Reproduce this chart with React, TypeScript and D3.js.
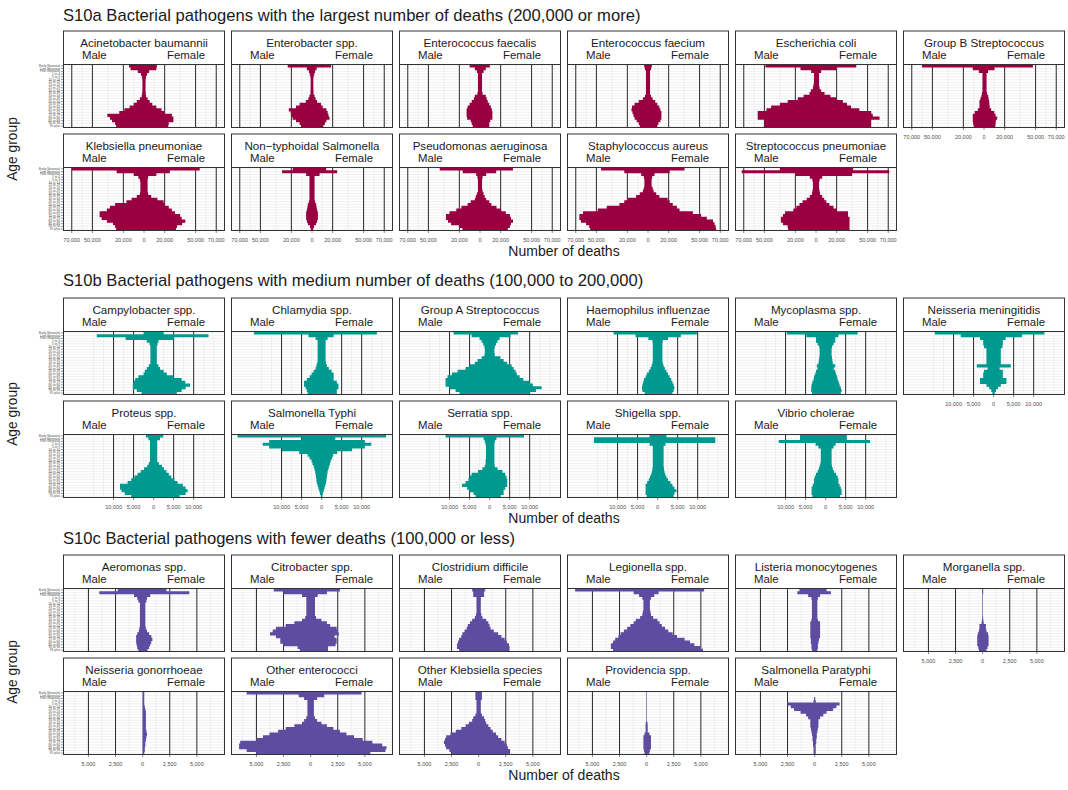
import React from "react";
import * as d3 from "d3";

const ageGroups = ["Early Neonatal","Late Neonatal","Post Neonatal","1 to 4","5 to 9","10 to 14","15 to 19","20 to 24","25 to 29","30 to 34","35 to 39","40 to 44","45 to 49","50 to 54","55 to 59","60 to 64","65 to 69","70 to 74","75 to 79","80 to 84","85 to 89","90 to 94","95 plus"];

// ---------- S10a ----------
const namesA = ["Acinetobacter baumannii","Enterobacter spp.","Enterococcus faecalis","Enterococcus faecium","Escherichia coli","Group B Streptococcus","Klebsiella pneumoniae","Non\u2212typhoidal Salmonella","Pseudomonas aeruginosa","Staphylococcus aureus","Streptococcus pneumoniae"];
const maleA = [
  [14500,13000,6000,3000,2000,1600,1500,1500,1500,1600,1800,2200,4000,7000,10000,14000,19000,24000,35500,33000,31000,28000,27000],
  [23500,5000,3000,2200,1500,1300,1300,1300,1300,1400,1500,2500,3500,6000,12000,15500,22500,20500,20000,18800,15500,12000,10700],
  [10000,5000,3000,2000,2000,2000,2000,2000,2000,2000,2500,5000,6000,8000,10000,12000,13000,13000,13000,12500,9000,8000,7000],
  [3700,3000,2000,2000,2000,2000,2000,2000,2000,2000,2000,3000,5000,9000,13000,15500,16000,15000,14000,13000,11000,9000,8000],
  [49000,15000,4700,2000,2000,2000,2000,2500,3000,5000,6300,12000,17700,27400,35000,43500,48000,56500,56500,56500,50000,50000,50000],
  [60000,10900,5000,1500,1500,1500,1500,1500,1500,1500,2000,2500,3500,4400,4400,4400,6000,9000,10900,10900,10900,10500,10000],
  [70000,26500,10000,5500,4000,3500,3500,3500,3500,4000,7000,12000,17000,28000,33000,36000,43000,43000,41000,36000,30000,28000,27000],
  [18600,29000,5700,2500,2500,2500,2500,2500,2500,2500,2500,2500,3000,4000,4500,5000,5700,5700,5700,5000,4000,2000,1200],
  [39000,16700,3700,2500,2000,2000,2000,2000,2000,3000,4000,5000,9000,12000,18000,23000,29600,33000,33000,31000,28000,20000,17000],
  [45500,23000,6600,4000,3500,3500,3500,4000,5000,8000,11500,19600,23000,27700,40000,48700,63000,66500,66500,65000,60000,57000,56000],
  [35000,72000,20000,6000,3500,3000,3000,3000,3500,4000,6000,9000,13000,16000,19000,22000,30000,32000,34000,34000,32000,27500,27000],
];
const femaleA = [
  [12500,12000,5000,3000,2000,1600,1500,1500,1500,1500,1700,2000,3500,5500,8000,12000,17000,20000,27000,28500,28500,24000,23500],
  [18500,4500,3000,2200,1500,1300,1300,1300,1300,1400,1500,2500,3500,5000,8700,10400,14000,15200,16000,17000,14000,12500,11000],
  [9500,5600,3500,2000,2000,2000,2000,2000,2000,2000,2500,5600,6500,7500,9000,10500,11500,12000,12000,12000,10000,9000,9000],
  [3700,3000,2000,2000,2000,2000,2000,2000,2000,2000,2000,3000,4500,7000,9000,11000,12000,13000,13000,13000,12000,10000,9000],
  [39000,19500,5000,3000,3000,3000,3000,3000,3500,5000,8300,14000,19600,26000,30000,34000,42000,53500,55000,61600,53500,53500,53500],
  [47400,10200,4000,2500,2500,2500,2500,2500,2500,2500,3000,4000,4500,5000,5300,5500,7000,10000,11200,12800,11500,11200,11000],
  [54000,25000,12000,4000,3500,3500,3500,3500,3500,4000,7000,13000,19000,20000,24000,27000,30000,35000,36500,40000,37000,32000,31000],
  [13700,24400,7300,2500,2500,2500,2500,2500,2500,2500,2500,2500,3000,4000,4500,5000,5700,5700,5700,5000,4000,2000,1200],
  [31900,15700,6000,2500,2000,2000,2000,2000,2500,3500,4500,6000,9000,11000,16000,20500,25000,29000,30000,32000,30000,29000,27000],
  [35400,21000,6300,4000,3500,3500,3500,4500,5500,8000,11000,19000,21000,24000,28000,30600,43500,51500,57000,63000,64500,65500,66000],
  [36000,71000,35000,6000,3500,3000,3000,3000,3500,4000,6000,8000,10000,13000,17000,20000,31000,31000,32500,32500,32500,32500,32500],
];
const ticksA = [-70000,-50000,-20000,0,20000,50000,70000];
const domainA = [-78000, 78000];

// ---------- S10b ----------
const namesB = ["Campylobacter spp.","Chlamydia spp.","Group A Streptococcus","Haemophilus influenzae","Mycoplasma spp.","Neisseria meningitidis","Proteus spp.","Salmonella Typhi","Serratia spp.","Shigella spp.","Vibrio cholerae"];
const maleB = [
  [2500,14200,7000,1700,1000,800,800,800,800,800,800,800,1200,1700,2200,2500,3800,4600,5000,5200,5200,4200,3000],
  [16900,3300,1500,1000,1000,1000,1000,1000,1000,1000,1000,1100,1300,1500,2000,2500,3000,3700,4400,4400,4000,3700,3500],
  [9000,4500,2500,2000,1600,1300,1200,1200,1300,2000,3000,3700,5000,6000,8000,9400,10500,11000,11000,11000,10000,8500,7500],
  [11000,5500,2300,1300,1200,1200,1200,1200,1200,1200,1200,1300,1500,1800,2200,2700,3000,3400,3600,3800,3900,3800,3200],
  [9700,4800,2400,2400,2000,1600,1500,1500,1500,1600,1700,1800,2200,2000,2400,2600,2900,3000,3300,3500,3600,3600,3400],
  [14700,8200,3400,2600,2600,2400,1800,1800,1800,1800,1800,1800,4200,1500,2400,2600,2600,3400,3400,1800,1100,600,300],
  [1900,1300,900,900,900,900,900,900,900,900,1200,1600,2400,3200,4000,4800,5600,6500,8400,8400,8000,7200,5600],
  [21000,5000,13100,14700,13100,9900,5600,3500,3000,2500,2300,2000,1800,1600,1500,1400,1300,1200,1000,800,600,400,200],
  [11000,1500,1200,1000,900,900,900,900,900,1000,1000,1200,1800,2900,4500,5000,5300,6000,6900,5600,5000,4000,3500],
  [2000,15900,15900,2000,1200,1200,1200,1200,1200,1200,1200,1200,1300,1400,1600,1900,2200,2600,3000,3000,3000,3000,2700],
  [6400,6400,11700,2500,1800,1200,1200,1200,1200,1200,1300,1500,1700,2000,2400,2700,2900,2900,3200,3500,3500,3500,3300],
];
const femaleB = [
  [2500,13700,5000,1200,1000,800,800,800,800,800,800,800,1200,1600,2500,3300,5000,7000,7900,9100,8000,7000,5800],
  [13800,3000,1500,1000,1000,1000,1000,1000,1000,1000,1000,1100,1300,1800,2500,3000,3000,3000,3800,4200,4200,3800,3800],
  [7100,5200,2500,2000,1600,1300,1200,1200,1300,2700,3500,4400,5500,6000,6500,6800,7500,8400,10000,10800,13000,11600,10000],
  [9800,5800,2600,1300,1200,1200,1200,1200,1200,1200,1200,1300,1500,1800,2200,2600,3000,3400,3700,4000,4200,4000,3700],
  [8000,3200,2400,2400,2000,1600,1500,1500,1500,1600,1700,1800,2400,2000,2400,2600,2900,3000,3300,3500,3800,4000,3800],
  [12700,7100,3000,2300,2300,2200,1800,1800,1800,1800,1800,1800,4300,1500,2300,2300,2300,3200,3200,1800,1100,600,300],
  [2400,1600,900,900,900,900,900,900,900,900,1300,2100,2600,3200,3800,4400,5200,6000,7300,8000,8500,8000,6500],
  [16100,3400,10800,12400,10800,7600,3900,2900,2600,2300,2100,1900,1700,1500,1400,1300,1200,1100,900,700,500,300,200],
  [8600,1700,1300,1200,1200,1200,1200,1200,1200,1200,1200,1300,2000,3200,3900,4200,4400,4400,4400,3900,3500,3500,2800],
  [2200,14400,14400,2000,1500,1500,1500,1500,1500,1500,1500,1500,1600,1700,1900,2200,2600,3200,3700,4200,4700,4200,4000],
  [5300,5300,11100,2500,2000,1500,1500,1500,1500,1500,1500,1600,1800,2100,2600,3000,3200,3200,3500,3800,4000,4000,3600],
];
const ticksB = [-10000,-5000,0,5000,10000];
const domainB = [-22500, 17700];

// ---------- S10c ----------
const namesC = ["Aeromonas spp.","Citrobacter spp.","Clostridium difficile","Legionella spp.","Listeria monocytogenes","Morganella spp.","Neisseria gonorrhoeae","Other enterococci","Other Klebsiella species","Providencia spp.","Salmonella Paratyphi"];
const maleC = [
  [2300,4000,800,500,400,250,250,250,250,250,250,250,250,250,300,350,500,600,600,600,550,500,400],
  [3400,2500,800,400,400,400,400,400,400,400,500,800,1500,2300,3200,3500,3750,3200,2800,2800,2500,1200,1000],
  [600,500,500,200,200,200,200,200,200,250,350,600,800,1000,1100,1300,1500,1600,1800,1900,2000,2000,1800],
  [6600,1200,700,400,300,300,300,300,350,400,600,1000,1200,1500,1800,2100,2400,2600,2900,3100,3300,3300,3100],
  [1400,1600,600,300,250,250,250,250,250,250,250,300,400,400,400,400,400,400,350,350,300,300,250],
  [50,50,30,30,30,30,30,30,30,30,40,60,100,300,300,350,450,500,500,500,500,400,350],
  [20,20,20,20,20,20,20,20,20,20,20,20,20,20,20,20,20,20,20,20,20,20,20],
  [5900,1100,600,300,300,300,300,300,300,400,600,800,1500,2300,3000,3800,4400,5000,6500,6600,6600,5900,5000],
  [300,300,300,200,200,200,200,200,300,500,600,900,1200,1600,2100,2600,3000,3100,3200,3100,3000,2700,2500],
  [30,30,30,30,30,30,30,30,30,30,30,80,100,100,100,200,300,300,300,300,300,250,200],
  [0,0,50,100,2500,2200,1900,1300,800,600,400,400,400,350,300,250,200,200,150,150,100,100,100],
];
const femaleC = [
  [2200,4300,700,400,350,250,250,250,250,250,250,250,250,250,300,400,600,800,900,800,700,600,450],
  [2700,1500,650,400,400,400,400,400,400,400,500,1000,1500,1800,2400,2500,2600,2200,2400,2400,2300,1600,1600],
  [600,500,500,200,200,200,200,200,200,250,350,700,900,1000,1100,1400,1800,2100,2400,2600,2800,2850,2850],
  [5300,1100,700,400,300,300,300,300,350,400,600,1000,1200,1400,1700,2000,2400,2800,3500,4000,4400,5000,5200],
  [1100,1500,500,300,250,250,250,250,250,250,250,300,500,500,500,500,500,500,400,350,300,300,250],
  [50,50,30,30,30,30,30,30,30,30,40,60,100,300,300,350,500,550,550,550,550,450,350],
  [150,150,150,150,150,200,250,300,300,300,300,300,300,300,350,400,350,300,250,250,200,200,150],
  [4700,1250,600,300,300,300,300,300,300,400,600,1000,1500,2100,2700,3300,4000,4800,5700,6600,7000,6900,5500],
  [300,300,300,200,200,200,200,200,300,500,600,700,900,1100,1300,1600,1800,2100,2400,2600,2700,2900,2900],
  [30,30,30,30,30,30,30,30,30,30,30,80,100,100,100,250,400,400,400,400,400,300,250],
  [0,0,50,100,2300,2000,1700,1100,800,500,350,350,350,300,250,200,200,150,150,100,100,100,100],
];
const ticksC = [-5000,-2500,0,2500,5000];
const domainC = [-7300, 7550];

const titles = [
  "S10a Bacterial pathogens with the largest number of deaths (200,000 or more)",
  "S10b Bacterial pathogens with medium number of deaths (100,000 to 200,000)",
  "S10c Bacterial pathogens with fewer deaths (100,000 or less)",
];

const FONT = "'Liberation Sans', Arial, Helvetica, sans-serif";

const sections = [
  { title: titles[0], names: namesA, male: maleA, female: femaleA, ticks: ticksA, domain: domainA, color: "#990042", titleY: 20.8, top: 31, ageY: 149 },
  { title: titles[1], names: namesB, male: maleB, female: femaleB, ticks: ticksB, domain: domainB, color: "#009990", titleY: 285.7, top: 298, ageY: 414 },
  { title: titles[2], names: namesC, male: maleC, female: femaleC, ticks: ticksC, domain: domainC, color: "#5D4CA0", titleY: 543.5, top: 555, ageY: 672 },
];

const COL0 = 63.5, COLSTEP = 168, PW = 161;
const STRIP_H = 33.5, PANEL_H = 63, ROW_GAP = 6.5;

function minorBreaks(b: number[], lim: number[]) {
  const bd = b[1] - b[0];
  let bb = b.slice();
  if (lim[0] < bb[0]) bb = [bb[0] - bd, ...bb];
  if (lim[1] > bb[bb.length - 1]) bb = [...bb, bb[bb.length - 1] + bd];
  const out: number[] = [];
  for (let i = 0; i < bb.length - 1; i++) out.push((bb[i] + bb[i + 1]) / 2, bb[i + 1]);
  out.push(bb[0]);
  return out.filter((v) => v > lim[0] && v < lim[1] && !b.includes(v));
}

const fmt = d3.format(",");

function Panel({ sec, idx, si }: any) {
  const row = idx < 6 ? 0 : 1;
  const col = idx < 6 ? idx : idx - 6;
  const L = COL0 + COLSTEP * col;
  const stripTop = sec.top + row * (STRIP_H + PANEL_H + ROW_GAP);
  const pTop = stripTop + STRIP_H;
  const pBot = pTop + PANEL_H;
  const x = d3.scaleLinear().domain(sec.domain).range([L, L + PW]);
  const y = d3.scaleBand<string>().domain(ageGroups).range([pTop, pBot]).padding(0);
  const minors = minorBreaks(sec.ticks, sec.domain);
  const showXAxis = idx === 5 || idx >= 6;
  const showY = col === 0;
  const clipId = `clip-${si}-${idx}`;
  const m: number[] = sec.male[idx];
  const f: number[] = sec.female[idx];
  // one path for the whole pyramid (male left of zero, female right) so no seams appear
  const p = d3.path();
  ageGroups.forEach((a, i) => {
    const xl = x(-(m[i] || 0));
    const xr = x(f[i] || 0);
    let w = xr - xl;
    if (w <= 0) return;
    let x0 = xl;
    if (w < 0.6) { x0 = (xl + xr) / 2 - 0.3; w = 0.6; }
    const h = y.bandwidth() + (i < ageGroups.length - 1 ? 0.35 : 0);
    p.rect(x0, y(a) as number, w, h);
  });
  return (
    <g>
      <defs>
        <clipPath id={clipId}>
          <rect x={L} y={pTop} width={PW} height={PANEL_H} />
        </clipPath>
      </defs>
      <rect x={L} y={stripTop} width={PW} height={STRIP_H} fill="#ffffff" stroke="#333333" strokeWidth={1} />
      <text x={L + PW / 2} y={stripTop + 15.5} textAnchor="middle" fontSize={11.6} fontFamily={FONT} fill="#1a1a1a">{sec.names[idx]}</text>
      <text x={L + 18.5} y={stripTop + 27.5} textAnchor="start" fontSize={11.4} fontFamily={FONT} fill="#1a1a1a">Male</text>
      <text x={L + PW - 19.5} y={stripTop + 27.5} textAnchor="end" fontSize={11.4} fontFamily={FONT} fill="#1a1a1a">Female</text>
      <rect x={L} y={pTop} width={PW} height={PANEL_H} fill="#ffffff" />
      <g clipPath={`url(#${clipId})`}>
        {ageGroups.map((a) => (
          <line key={a} x1={L} x2={L + PW} y1={(y(a) as number) + y.bandwidth() / 2} y2={(y(a) as number) + y.bandwidth() / 2} stroke="#e6e6e6" strokeWidth={0.6} />
        ))}
        {minors.map((v) => (
          <line key={"mn" + v} x1={x(v)} x2={x(v)} y1={pTop} y2={pBot} stroke="#e8e8e8" strokeWidth={0.6} />
        ))}
        {sec.ticks.filter((v: number) => v !== 0).map((v: number) => (
          <line key={"mj" + v} x1={x(v)} x2={x(v)} y1={pTop} y2={pBot} stroke="#111111" strokeWidth={0.9} />
        ))}
        <path d={p.toString()} fill={sec.color} />
      </g>
      <rect x={L} y={pTop} width={PW} height={PANEL_H} fill="none" stroke="#333333" strokeWidth={1} />
      {showXAxis && (
        <g>
          {sec.ticks.map((v: number) => (
            <g key={"t" + v}>
              <line x1={x(v)} x2={x(v)} y1={pBot} y2={pBot + 2.5} stroke="#333333" strokeWidth={0.6} />
              <text x={x(v)} y={pBot + 11.3} textAnchor="middle" fontSize={5.5} fontFamily={FONT} fill="#4d4d4d">{fmt(Math.abs(v))}</text>
            </g>
          ))}
        </g>
      )}
      {showY && (
        <g>
          {ageGroups.map((a) => {
            const yc = (y(a) as number) + y.bandwidth() / 2;
            return (
              <g key={"y" + a}>
                <line x1={L - 2.5} x2={L} y1={yc} y2={yc} stroke="#333333" strokeWidth={0.5} />
                <text x={L - 3.5} y={yc + 1.1} textAnchor="end" fontSize={3.2} fontFamily={FONT} fill="#4d4d4d">{a}</text>
              </g>
            );
          })}
        </g>
      )}
    </g>
  );
}

export default function App() {
  const W = 1068, H = 790;
  const centerX = COL0 + (COLSTEP * 5 + PW) / 2;
  return (
    <svg width={W} height={H} viewBox={`0 0 ${W} ${H}`} style={{ position: "absolute", left: 0, top: 0, background: "#ffffff" }}>
      <rect x={0} y={0} width={W} height={H} fill="#ffffff" />
      {sections.map((sec, si) => {
        const panelBottom = sec.top + 2 * (STRIP_H + PANEL_H) + ROW_GAP;
        return (
          <g key={si}>
            <text x={63} y={sec.titleY} fontSize={16.6} fontFamily={FONT} fill="#1a1a1a">{sec.title}</text>
            <text transform={`translate(17,${sec.ageY}) rotate(-90)`} textAnchor="middle" fontSize={13.8} fontFamily={FONT} fill="#1a1a1a">Age group</text>
            <text x={centerX} y={panelBottom + 25.5} textAnchor="middle" fontSize={14} fontFamily={FONT} fill="#1a1a1a">Number of deaths</text>
            {sec.names.map((_: string, idx: number) => (
              <Panel key={idx} sec={sec} idx={idx} si={si} />
            ))}
          </g>
        );
      })}
    </svg>
  );
}
